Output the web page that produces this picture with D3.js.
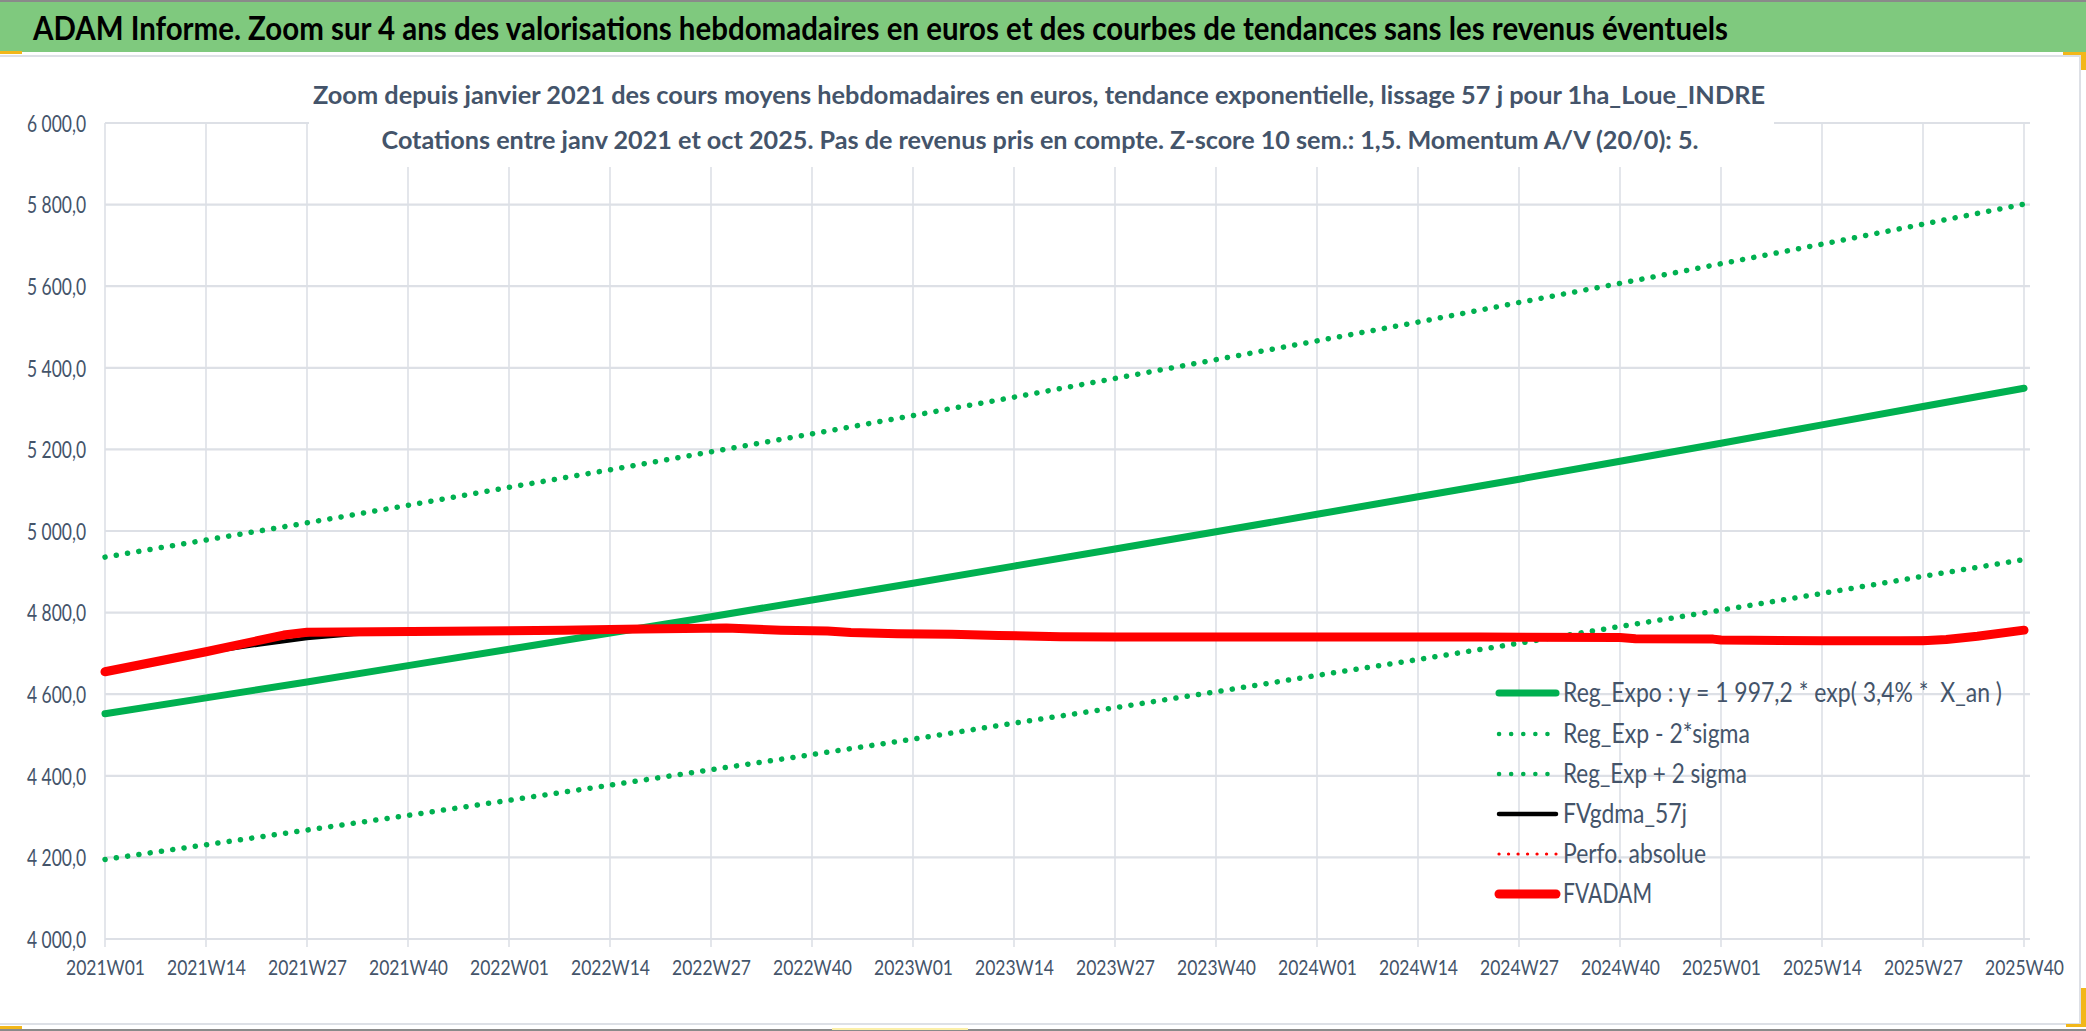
<!DOCTYPE html>
<html><head><meta charset="utf-8">
<script src="https://cdn.jsdelivr.net/npm/d3@7"></script>
<style>
html,body{margin:0;padding:0;background:#fff;}
svg{display:block;}
text{font-family:Lato,"Open Sans",sans-serif;}
</style></head>
<body>
<svg id="chart" width="2086" height="1031"></svg>
<script>
// ---------- DATA ----------
const mainTitle = "ADAM Informe. Zoom sur 4 ans des valorisations hebdomadaires en euros et des courbes de tendances sans les revenus éventuels";
const subTitle1 = "Zoom depuis janvier 2021 des cours moyens hebdomadaires en euros, tendance exponentielle, lissage 57 j pour 1ha_Loue_INDRE";
const subTitle2 = "Cotations entre janv 2021 et oct 2025. Pas de revenus pris en compte. Z-score 10 sem.: 1,5. Momentum A/V (20/0): 5.";

const xTickLabels = ["2021W01","2021W14","2021W27","2021W40","2022W01","2022W14","2022W27","2022W40",
  "2023W01","2023W14","2023W27","2023W40","2024W01","2024W14","2024W27","2024W40",
  "2025W01","2025W14","2025W27","2025W40"];
const yTicks = [4000,4200,4400,4600,4800,5000,5200,5400,5600,5800,6000];

// trend values read at each x tick label
const regExpo = [4552,4591,4630,4670,4710,4750,4790,4831,4872,4914,4956,4998,5041,5084,5127,5171,5215,5260,5305,5350];
const regLow  = [4195,4231,4267,4303,4340,4377,4415,4452,4490,4529,4567,4606,4646,4685,4725,4766,4806,4847,4889,4930];
const regHigh = [4936,4978,5020,5063,5107,5150,5194,5238,5283,5328,5374,5420,5466,5512,5560,5607,5655,5703,5752,5801];

// FVADAM (week, value)
const fvadamWeeks  = ["2021W01","2021W14","2021W24","2021W27","2021W45","2022W08","2022W18","2022W29","2022W36","2022W42","2022W45","2022W51","2023W06","2023W12","2023W20","2023W27","2024W22","2024W40","2024W42","2024W52","2025W01","2025W14","2025W27","2025W30","2025W34","2025W40"];
const fvadamValues = [4655,4704,4745,4752,4754,4757,4760,4762,4757,4755,4751,4748,4747,4744,4741,4740,4740,4739,4736,4735,4733,4731,4731,4734,4742,4757];

// FVgdma_57j (week, value)
const gdmaWeeks  = ["2021W01","2021W14","2021W21","2021W27","2021W33","2021W40","2022W08","2022W18","2022W29","2022W43","2022W51","2023W12","2023W27","2024W40","2024W52","2025W14","2025W24","2025W30","2025W34","2025W40"];
const gdmaValues = [4655,4702,4722,4737,4747,4753,4757,4760,4762,4756,4748,4744,4740,4739,4735,4732,4735,4737,4743,4755];

const legendLabels = ["Reg_Expo : y = 1 997,2 * exp( 3,4% *  X_an )","Reg_Exp - 2*sigma","Reg_Exp + 2 sigma","FVgdma_57j","Perfo. absolue","FVADAM"];

// ---------- LAYOUT / STYLE ----------
const W = 2086, H = 1031;
const plot = {left:105, right:2024, gridRight:2030, top:123, bottom:939};
const textColor = "#44546A";
const gridColor = "#DDE0E6";
const green = "#00B050", red = "#FF0000";
const legendTextWidths = [439,187,184,124,143,89];

const svg = d3.select("#chart");

function weekIndex(lbl){
  const yr = +lbl.slice(0,4), wk = +lbl.slice(5);
  return (yr-2021)*52 + (wk-1);
}
const x = d3.scaleLinear().domain([0, weekIndex("2025W40")]).range([plot.left, plot.right]);
const y = d3.scaleLinear().domain([4000,6000]).range([plot.bottom, plot.top]);

const fr = d3.formatLocale({decimal:",", thousands:"\u00a0", grouping:[3]});
const fmt = fr.format(",.1f");

function fitTo(sel, w){
  sel.attr("textLength", w).attr("lengthAdjust","spacingAndGlyphs");
}

// background
svg.append("rect").attr("x",0).attr("y",0).attr("width",W).attr("height",H).attr("fill","#fff");

// title band
svg.append("rect").attr("x",0).attr("y",0).attr("width",W).attr("height",52).attr("fill","#7FC97E");
svg.append("rect").attr("x",0).attr("y",0).attr("width",W).attr("height",2).attr("fill","#8A8A8A");
svg.append("text").attr("x",33).attr("y",40).attr("font-size",32).attr("font-weight",700).attr("fill","#000")
  .attr("textLength",1695).attr("lengthAdjust","spacingAndGlyphs").text(mainTitle);

// chart panel borders
svg.append("rect").attr("x",0).attr("y",55).attr("width",2080).attr("height",2).attr("fill",gridColor);
svg.append("rect").attr("x",2079).attr("y",55).attr("width",2).attr("height",970).attr("fill",gridColor);
svg.append("rect").attr("x",0).attr("y",1023).attr("width",2081).attr("height",2).attr("fill",gridColor);
svg.append("rect").attr("x",0).attr("y",1029).attr("width",W).attr("height",2).attr("fill","#8A8A8A");
// selection marks
const marks = [[0,51,22,3,"#F2B71A"],[2063,52,23,3,"#F2B71A"],[2081,52,5,18,"#F2B71A"],[2081,988,5,39,"#F2B71A"],[2066,1024,20,3,"#F2B71A"],[0,1026,22,3,"#F2B71A"],[832,1028,136,2,"#FBEFA8"]];
svg.selectAll("rect.mk").data(marks).enter().append("rect").attr("class","mk")
  .attr("x",d=>d[0]).attr("y",d=>d[1]).attr("width",d=>d[2]).attr("height",d=>d[3]).attr("fill",d=>d[4]);

// grid
const g = svg.append("g");
g.selectAll("line.h").data(yTicks).enter().append("line").attr("class","h")
  .attr("x1",plot.left).attr("x2",plot.gridRight).attr("y1",d=>y(d)).attr("y2",d=>y(d))
  .attr("stroke",gridColor).attr("stroke-width",2.2);
g.selectAll("line.v").data(xTickLabels).enter().append("line").attr("class","v")
  .attr("x1",d=>x(weekIndex(d))).attr("x2",d=>x(weekIndex(d))).attr("y1",plot.top).attr("y2",plot.bottom+8)
  .attr("stroke",gridColor).attr("stroke-width",1.6);

// y axis labels via d3 axis
const yAxis = svg.append("g").attr("transform",`translate(${plot.left-19},0)`)
  .call(d3.axisLeft(y).tickValues(yTicks).tickFormat(fmt).tickSize(0).tickPadding(0));
yAxis.select(".domain").remove();
yAxis.selectAll("text").attr("font-size",23).attr("fill",textColor).attr("font-family","Lato").attr("dy","0.36em");
fitTo(yAxis.selectAll("text"), 59);

// x axis labels
const xAxis = svg.append("g").attr("transform",`translate(0,${plot.bottom})`)
  .call(d3.axisBottom(x).tickValues(xTickLabels.map(weekIndex)).tickFormat((d,i)=>xTickLabels[i]).tickSize(0).tickPadding(0));
xAxis.select(".domain").remove();
xAxis.selectAll("text").attr("font-size",21).attr("fill",textColor).attr("font-family","Lato").attr("dy",0).attr("y",36);
fitTo(xAxis.selectAll("text"), 79);

// subtitle box (covers grid)
svg.append("rect").attr("x",309).attr("y",58).attr("width",1465).attr("height",109).attr("fill","#fff");
svg.append("text").attr("x",1039).attr("y",104).attr("text-anchor","middle").attr("font-size",25).attr("font-weight",700)
  .attr("fill",textColor).attr("textLength",1452).attr("lengthAdjust","spacingAndGlyphs").text(subTitle1);
svg.append("text").attr("x",1040).attr("y",149).attr("text-anchor","middle").attr("font-size",25).attr("font-weight",700)
  .attr("fill",textColor).attr("textLength",1317).attr("lengthAdjust","spacingAndGlyphs").text(subTitle2);

// series
const line = d3.line().x(d=>x(d[0])).y(d=>y(d[1]));
const tickIdx = xTickLabels.map(weekIndex);
const zip = (ks, vs) => ks.map((k,i)=>[k, vs[i]]);

const series = [
  {pts: zip(tickIdx, regExpo), color: green, w: 7, dash: null},
  {pts: zip(tickIdx, regLow), color: green, w: 5.5, dash: "0.1 11.3"},
  {pts: zip(tickIdx, regHigh), color: green, w: 5.5, dash: "0.1 11.3"},
  {pts: zip(gdmaWeeks.map(weekIndex), gdmaValues), color: "#000", w: 4, dash: null},
  {pts: zip(fvadamWeeks.map(weekIndex), fvadamValues), color: red, w: 9, dash: null}
];
const sg = svg.append("g");
series.forEach(s=>{
  sg.append("path").attr("d", line(s.pts)).attr("fill","none").attr("stroke",s.color)
    .attr("stroke-width",s.w).attr("stroke-linecap","round").attr("stroke-linejoin","round")
    .attr("stroke-dasharray", s.dash);
});

// legend
const legStyles = [
  {color: green, w: 7, dash: null},
  {color: green, w: 4.5, dash: "0.1 12"},
  {color: green, w: 4.5, dash: "0.1 12"},
  {color: "#000", w: 4.5, dash: null},
  {color: red, w: 3.2, dash: "0.1 9.4"},
  {color: red, w: 9, dash: null}
];
const legRows = [693,734,774,814,854,894];
const lg = svg.append("g");
legendLabels.forEach((lbl,i)=>{
  const st = legStyles[i];
  lg.append("line").attr("x1",1499).attr("x2",1556).attr("y1",legRows[i]).attr("y2",legRows[i])
    .attr("stroke",st.color).attr("stroke-width",st.w).attr("stroke-linecap","round").attr("stroke-dasharray",st.dash);
  lg.append("text").attr("x",1563).attr("y",legRows[i]+9).attr("font-size",26).attr("fill",textColor)
    .style("white-space","pre").attr("textLength",legendTextWidths[i]).attr("lengthAdjust","spacingAndGlyphs").text(lbl);
});
</script>
</body></html>
